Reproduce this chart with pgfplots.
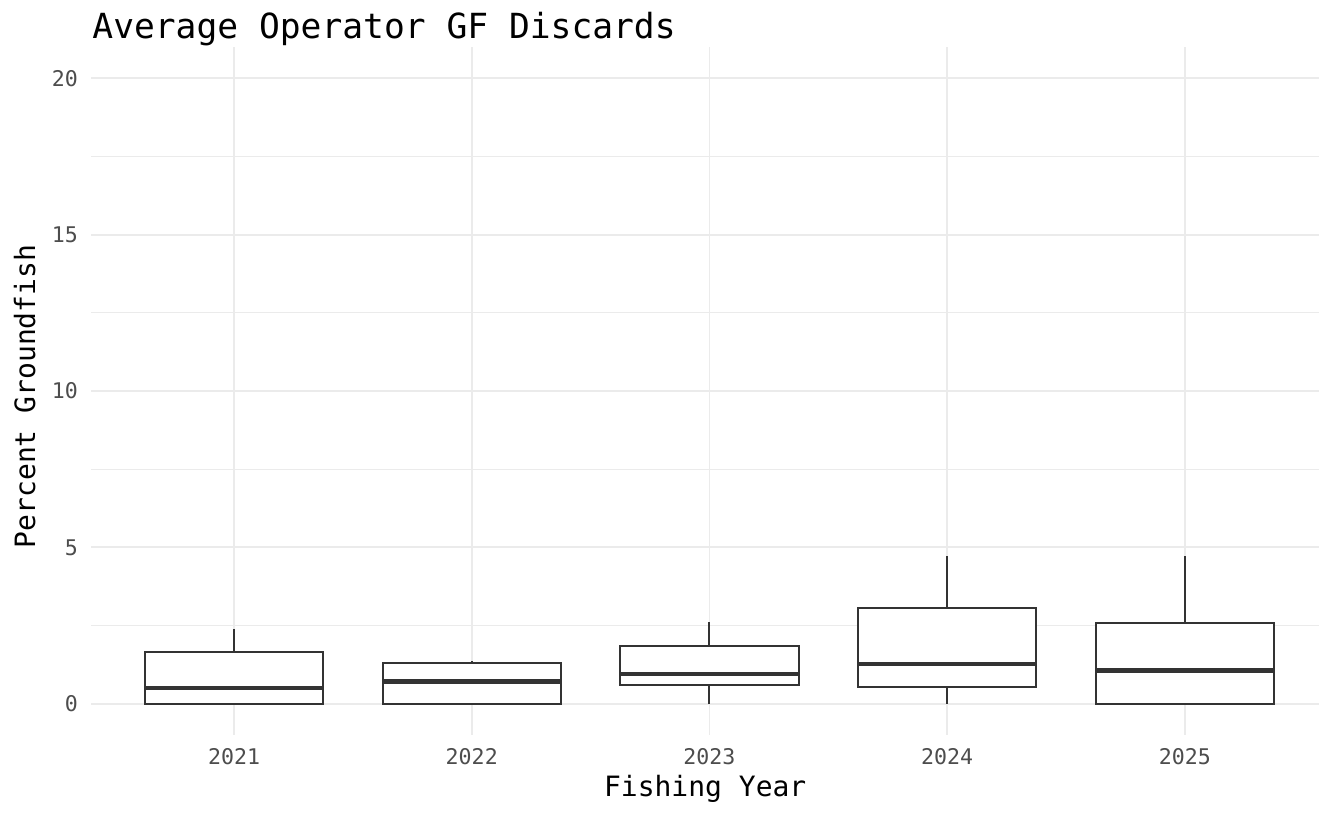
\documentclass[border=0pt]{standalone}
\usepackage{pgfplots}
\pgfplotsset{compat=1.18}
\usepgfplotslibrary{statistics}
\usepackage{fontspec}
\setmainfont{DejaVu Sans Mono}
\definecolor{gridc}{HTML}{EBEBEB}
\definecolor{tickc}{HTML}{4D4D4D}
\definecolor{boxc}{HTML}{333333}
\begin{document}
\begin{tikzpicture}
\path[use as bounding box] (0,0) rectangle (1319pt,816pt);
\begin{axis}[
  at={(91.4pt,81pt)}, anchor=south west,
  scale only axis, width=1227.6pt, height=688pt,
  xmin=0.4, xmax=5.564, ymin=-1, ymax=21,
  axis line style={draw=none},
  xtick={1,2,3,4,5}, xticklabels={2021,2022,2023,2024,2025},
  ytick={0,5,10,15,20}, minor ytick={2.5,7.5,12.5,17.5},
  major tick length=0pt, minor tick length=0pt,
  grid=both,
  major grid style={gridc, line width=1.8pt},
  minor grid style={gridc, line width=1.1pt},
  /pgf/number format/assume math mode=true,
  tick label style={font=\fontsize{21.6}{24}\selectfont, text=tickc},
  xticklabel style={yshift=-10pt},
  yticklabel style={xshift=-10pt},
  xlabel={Fishing Year},
  ylabel={Percent Groundfish},
  label style={font=\fontsize{28}{32}\selectfont, text=black},
  xlabel style={at={(axis description cs:0.5,0)}, anchor=base, yshift=-62pt},
  ylabel style={at={(axis description cs:-0.0459,0.492)}, anchor=base, rotate=0},
  title={Average Operator GF Discards},
  title style={at={(axis description cs:0,1)}, anchor=base west, xshift=-2.5pt, yshift=2pt, font=\fontsize{34.6}{38}\selectfont},
  boxplot/draw direction=y,
  boxplot/box extend=0.75,
  boxplot/whisker extend=0,
  boxplot/every box/.style={draw=boxc, line width=2pt, fill=white},
  boxplot/every whisker/.style={draw=boxc, line width=2pt},
  boxplot/every median/.style={draw=boxc, line width=4.2pt},
  clip=false,
]
\addplot+[boxc, mark=none, boxplot prepared={draw position=1, lower whisker=0, lower quartile=0, median=0.50, upper quartile=1.67, upper whisker=2.40}] coordinates {};
\addplot+[boxc, mark=none, boxplot prepared={draw position=2, lower whisker=0, lower quartile=0, median=0.71, upper quartile=1.31, upper whisker=1.38}] coordinates {};
\addplot+[boxc, mark=none, boxplot prepared={draw position=3, lower whisker=0, lower quartile=0.59, median=0.96, upper quartile=1.85, upper whisker=2.60}] coordinates {};
\addplot+[boxc, mark=none, boxplot prepared={draw position=4, lower whisker=0, lower quartile=0.52, median=1.26, upper quartile=3.06, upper whisker=4.71}] coordinates {};
\addplot+[boxc, mark=none, boxplot prepared={draw position=5, lower whisker=0, lower quartile=0, median=1.06, upper quartile=2.58, upper whisker=4.71}] coordinates {};
\end{axis}
\end{tikzpicture}
\end{document}
